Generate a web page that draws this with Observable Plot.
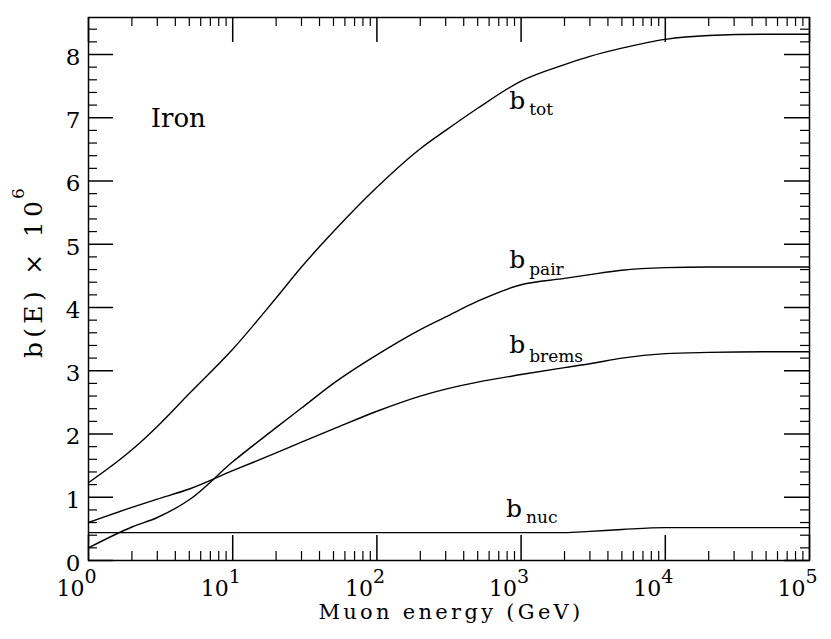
<!DOCTYPE html>
<html>
<head>
<meta charset="utf-8">
<script src="https://cdn.jsdelivr.net/npm/d3@7"></script>
<script src="https://cdn.jsdelivr.net/npm/@observablehq/plot@0.6"></script>
<style>
  body { margin: 0; background: #fff; }
  #chart svg { display: block; }
</style>
</head>
<body>
<div id="chart"></div>
<script>
// ---- Data (muon energy loss in iron) ----
const energy  = [1, 2, 3, 5, 10, 20, 30, 50, 100, 200, 300, 500, 1000, 2000, 3000, 5000, 10000, 20000, 50000, 100000];
const bTot    = [1.23, 1.75, 2.12, 2.64, 3.34, 4.15, 4.64, 5.20, 5.90, 6.51, 6.80, 7.15, 7.58, 7.84, 7.97, 8.10, 8.24, 8.30, 8.32, 8.32];
const bPair   = [0.20, 0.53, 0.68, 0.96, 1.56, 2.10, 2.41, 2.80, 3.25, 3.65, 3.85, 4.10, 4.36, 4.46, 4.52, 4.59, 4.63, 4.64, 4.64, 4.64];
const bBrems  = [0.60, 0.84, 0.97, 1.13, 1.42, 1.70, 1.87, 2.08, 2.36, 2.60, 2.71, 2.82, 2.94, 3.05, 3.11, 3.20, 3.27, 3.29, 3.30, 3.30];
const bNuc    = [0.44, 0.44, 0.44, 0.44, 0.44, 0.44, 0.44, 0.44, 0.44, 0.44, 0.44, 0.44, 0.44, 0.44, 0.46, 0.49, 0.52, 0.52, 0.52, 0.52];
const seriesNames = ["tot", "pair", "brems", "nuc"];

// ---- Tick values and labels ----
const xMajorTicks = [1, 10, 100, 1000, 10000, 100000];
const xTickBase = ["10", "10", "10", "10", "10", "10"];
const xTickExponent = ["0", "1", "2", "3", "4", "5"];
const minorMultipliers = [2, 3, 4, 5, 6, 7, 8, 9];
const yMajorTicks = [0, 1, 2, 3, 4, 5, 6, 7, 8];
const yTickLabels = ["0", "1", "2", "3", "4", "5", "6", "7", "8"];
const yMinorTicks = [0.2, 0.4, 0.6, 0.8, 1.2, 1.4, 1.6, 1.8, 2.2, 2.4, 2.6, 2.8, 3.2, 3.4, 3.6, 3.8,
                     4.2, 4.4, 4.6, 4.8, 5.2, 5.4, 5.6, 5.8, 6.2, 6.4, 6.6, 6.8, 7.2, 7.4, 7.6, 7.8, 8.2, 8.4];

// ---- Annotation placement (data coordinates) ----
const labelAnchors = [
  {series: "tot",   E: 826, y: 7.146, Esub: 1137, ysub: 7.036},
  {series: "pair",  E: 826, y: 4.617, Esub: 1137, ysub: 4.506},
  {series: "brems", E: 826, y: 3.273, Esub: 1137, ysub: 3.146},
  {series: "nuc",   E: 787, y: 0.680, Esub: 1083, ysub: 0.585}
];

const seriesValues = [bTot, bPair, bBrems, bNuc];
const rows = seriesNames.flatMap((name, i) =>
  energy.map((E, j) => ({series: name, E, b: seriesValues[i][j]})));
const xMinorTicks = xMajorTicks.slice(0, -1).flatMap(d => minorMultipliers.map(m => d * m));

const W = 831, H = 639;
const mL = 88, mR = 22, mT = 17, mB = 79;
const frameW = W - mL - mR, frameH = H - mT - mB;
const yMax = 8.585, xMin = 1, xMax = 100000;
const yPerPx = yMax / frameH;            // data units per pixel (y)
const decPerPx = 5 / frameW;             // decades per pixel (x)
const majorLen = 25, minorLen = 9;
const yMajLen = majorLen * yPerPx, yMinLen = minorLen * yPerPx;
const xMajFac = 10 ** (majorLen * decPerPx), xMinFac = 10 ** (minorLen * decPerPx);

const xTicks = xMajorTicks.map((d, i) => ({d, base: xTickBase[i], exp: xTickExponent[i]}));
const yTicks = yMajorTicks.map((d, i) => ({d, label: yTickLabels[i]}));

const tickStyle = (w) => ({stroke: "#000", strokeWidth: w, strokeOpacity: 1});

const chart = Plot.plot({
  width: W,
  height: H,
  marginLeft: mL,
  marginRight: mR,
  marginTop: mT,
  marginBottom: mB,
  style: {fontFamily: "'DejaVu Serif', serif", background: "#fff", color: "#000"},
  x: {type: "log", domain: [xMin, xMax], axis: null},
  y: {domain: [0, yMax], axis: null},
  marks: [
    Plot.frame({stroke: "#000", strokeWidth: 1.5}),
    // curves
    Plot.line(rows, {x: "E", y: "b", z: "series", stroke: "#000", strokeWidth: 1.4, curve: "monotone-x"}),
    // x tick labels: "10" + superscript exponent
    Plot.text(xTicks, {x: "d", y: () => 0, text: "base", textAnchor: "end", dx: -4, dy: 28, fontSize: 22, fill: "#000"}),
    Plot.text(xTicks, {x: "d", y: () => 0, text: "exp", textAnchor: "start", dx: -4, dy: 16, fontSize: 19, fill: "#000"}),
    // y tick labels
    Plot.text(yTicks, {x: () => xMin, y: "d", text: "label", textAnchor: "end", dx: -8, dy: 3, fontSize: 23, fill: "#000"}),
    // series labels b_xxx
    Plot.text(labelAnchors, {x: "E", y: "y", text: () => "b", textAnchor: "start", lineAnchor: "bottom", fontSize: 25, fill: "#000"}),
    Plot.text(labelAnchors, {x: "Esub", y: "ysub", text: "series", textAnchor: "start", lineAnchor: "bottom", fontSize: 17, fill: "#000"}),
    // material label
    Plot.text(["Iron"], {x: () => 2.7, y: () => 6.846, text: d => d, textAnchor: "start", lineAnchor: "bottom", fontSize: 26, fill: "#000"}),
    // axis titles
    Plot.text(["Muon energy (GeV)"], {frameAnchor: "bottom", text: d => d, textAnchor: "middle", lineAnchor: "bottom", dx: 2, dy: 58, fontSize: 21, fill: "#000"}),
    Plot.text(["b(E) × 10"], {frameAnchor: "left", text: d => d, rotate: -90, textAnchor: "start", dx: -55, dy: 69, fontSize: 25, fill: "#000"}),
    Plot.text(["6"], {frameAnchor: "left", text: d => d, rotate: -90, textAnchor: "start", dx: -70, dy: -90, fontSize: 17, fill: "#000"}),
    // frame ticks: bottom, top, left, right
    Plot.ruleX(xMajorTicks, {x: d => d, y1: () => 0, y2: () => yMajLen, ...tickStyle(1.5)}),
    Plot.ruleX(xMinorTicks, {x: d => d, y1: () => 0, y2: () => yMinLen, ...tickStyle(1.2)}),
    Plot.ruleX(xMajorTicks, {x: d => d, y1: () => yMax, y2: () => yMax - yMajLen, ...tickStyle(1.5)}),
    Plot.ruleX(xMinorTicks, {x: d => d, y1: () => yMax, y2: () => yMax - yMinLen, ...tickStyle(1.2)}),
    Plot.ruleY(yMajorTicks, {y: d => d, x1: () => xMin, x2: () => xMin * xMajFac, ...tickStyle(1.5)}),
    Plot.ruleY(yMinorTicks, {y: d => d, x1: () => xMin, x2: () => xMin * xMinFac, ...tickStyle(1.2)}),
    Plot.ruleY(yMajorTicks, {y: d => d, x1: () => xMax, x2: () => xMax / xMajFac, ...tickStyle(1.5)}),
    Plot.ruleY(yMinorTicks, {y: d => d, x1: () => xMax, x2: () => xMax / xMinFac, ...tickStyle(1.2)})
  ]
});

const svg = d3.select(chart);
svg.selectAll("text").filter(function() { return this.textContent === "Muon energy (GeV)"; })
  .style("letter-spacing", "3.3px");
svg.selectAll("text").filter(function() { return this.textContent === "b(E) × 10"; })
  .style("letter-spacing", "4.3px");
document.getElementById("chart").appendChild(chart);
</script>
</body>
</html>
